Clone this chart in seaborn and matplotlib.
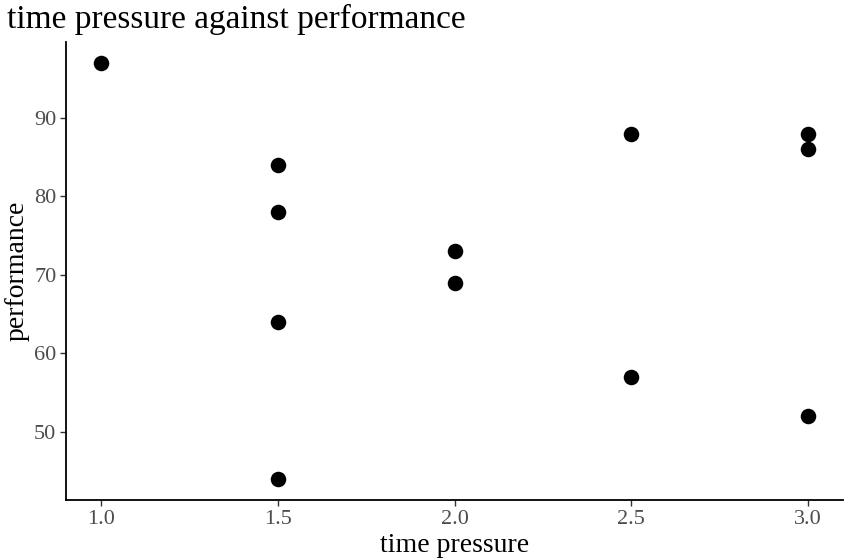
import matplotlib
matplotlib.use("Agg")
import matplotlib.pyplot as plt
import seaborn as sns
import pandas as pd

time_pressure = [1.0, 1.5, 1.5, 1.5, 1.5, 2.0, 2.0, 2.5, 2.5, 3.0, 3.0, 3.0]
performance = [97, 84, 78, 64, 44, 73, 69, 88, 57, 88, 86, 52]
x_ticks = [1.0, 1.5, 2.0, 2.5, 3.0]
y_ticks = [50, 60, 70, 80, 90]

df = pd.DataFrame({"time pressure": time_pressure, "performance": performance})

sns.set_style("white")
plt.rcParams["font.family"] = ["Liberation Serif", "DejaVu Serif"]

fig = plt.figure(figsize=(8.49, 5.58), dpi=100)
ax = fig.add_axes([66/849, 1 - 500/558, (843-66)/849, (500-42)/558])

sns.scatterplot(data=df, x="time pressure", y="performance", ax=ax,
                color="black", s=125, edgecolor="black", linewidth=0, zorder=3)

ax.set_xlim(0.9, 3.1)
ax.set_ylim(41.35, 99.65)
ax.set_xticks(x_ticks)
ax.set_xticklabels([f"{v:.1f}" for v in x_ticks])
ax.set_yticks(y_ticks)
ax.set_yticklabels([str(v) for v in y_ticks])

for s in ["top", "right"]:
    ax.spines[s].set_visible(False)
for s in ["left", "bottom"]:
    ax.spines[s].set_color("black")
    ax.spines[s].set_linewidth(1.3)

ax.tick_params(axis="both", which="major", direction="out", length=4, width=1.0,
               color="#333333", labelcolor="#4D4D4D", labelsize=16, pad=3,
               bottom=True, left=True)

ax.set_xlabel("time pressure", fontsize=20, color="black", labelpad=3)
ax.set_ylabel("performance", fontsize=20, color="black", labelpad=3)
fig.text(7/849, 1 - 28/558, "time pressure against performance", fontsize=24,
         color="black", ha="left", va="baseline")

fig.savefig("out.png", dpi=100)
